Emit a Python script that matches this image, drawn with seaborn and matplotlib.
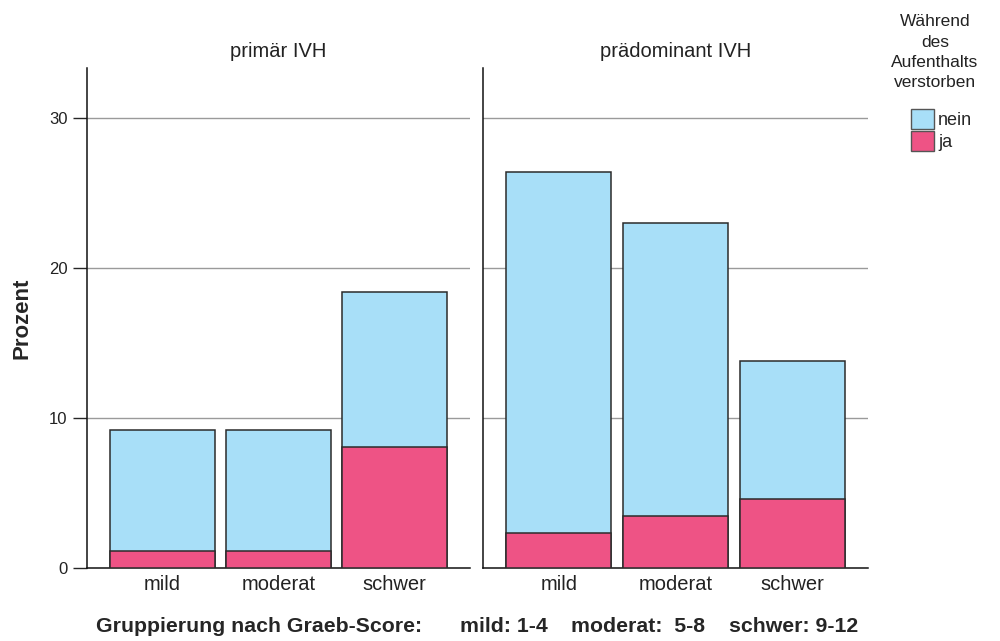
import matplotlib
matplotlib.use("Agg")
from matplotlib import pyplot as plt
from matplotlib.patches import Patch
import seaborn as sns
import pandas as pd

# Data (Prozent)
categories = ["mild", "moderat", "schwer"]
panels = ["primär IVH", "prädominant IVH"]
nein_primaer = [8.05, 8.05, 10.35]
ja_primaer = [1.15, 1.15, 8.05]
nein_praedom = [24.1, 19.5, 9.2]
ja_praedom = [2.3, 3.45, 4.6]

col_nein = "#A8DFF8"
col_ja = "#EE5385"

sns.set_style("white")
plt.rcParams["font.family"] = ["Liberation Sans", "DejaVu Sans"]

fig = plt.figure(figsize=(10, 6.41), dpi=100)
ax1 = fig.add_axes([0.087, 0.1139, 0.383, 0.780])
ax2 = fig.add_axes([0.483, 0.1139, 0.385, 0.780])

panel_data = [(ax1, panels[0], nein_primaer, ja_primaer),
              (ax2, panels[1], nein_praedom, ja_praedom)]

for ax, title, nein, ja in panel_data:
    df = pd.DataFrame({"Gruppe": categories,
                       "gesamt": [a + b for a, b in zip(nein, ja)],
                       "ja": ja})
    # total bar (nein on top), then ja drawn from the base
    sns.barplot(data=df, x="Gruppe", y="gesamt", color=col_nein, width=0.9,
                edgecolor="#2b2b2b", linewidth=1.1, saturation=1, ax=ax, zorder=3)
    sns.barplot(data=df, x="Gruppe", y="ja", color=col_ja, width=0.9,
                edgecolor="#2b2b2b", linewidth=1.1, saturation=1, ax=ax, zorder=4)
    ax.set_xlim(-0.65, 2.65)
    ax.set_ylim(0, 33.3)
    ax.set_yticks([0, 10, 20, 30])
    for v in [10, 20, 30]:
        ax.axhline(v, color="#9a9a9a", linewidth=1.0, zorder=1)
    ax.set_title(title, fontsize=14.5, color="#222222", pad=8)
    ax.set_xlabel("")
    ax.set_ylabel("")
    ax.tick_params(axis="x", bottom=False, length=0, labelsize=14.5, pad=5, colors="#222222")
    for s in ["top", "right"]:
        ax.spines[s].set_visible(False)
    ax.spines["left"].set_color("#111111")
    ax.spines["bottom"].set_color("#111111")
    ax.spines["left"].set_linewidth(1.1)
    ax.spines["bottom"].set_linewidth(1.1)

ax1.tick_params(axis="y", left=True, length=10, width=1.0,
                labelsize=12, pad=4)
for t in ax1.yaxis.get_ticklines():
    t.set_color("#9a9a9a")
for lab in ax1.get_yticklabels():
    lab.set_color("#222222")
ax1.set_ylabel("Prozent", fontsize=16, fontweight="bold", labelpad=12)
ax2.tick_params(axis="y", left=False, length=0, labelleft=False)

# x axis caption, pieces placed like the original
caption = ["Gruppierung nach Graeb-Score:", "mild: 1-4", "moderat:  5-8", "schwer: 9-12"]
caption_x = [0.096, 0.460, 0.571, 0.729]
for txt, xx in zip(caption, caption_x):
    fig.text(xx, 0.022, txt, ha="left", va="center", fontsize=15.3, fontweight="bold")

handles = [Patch(facecolor=col_nein, edgecolor="#555555", label="nein"),
           Patch(facecolor=col_ja, edgecolor="#555555", label="ja")]
fig.text(0.935, 0.978, "Während\ndes\nAufenthalts\nverstorben", ha="center", va="top",
         fontsize=12.5, color="#222222", linespacing=1.45)
fig.legend(handles=handles, loc="upper left", bbox_to_anchor=(0.911, 0.83),
           frameon=False, fontsize=13, handlelength=1.3, handleheight=1.35,
           handletextpad=0.2, labelspacing=0.1, borderaxespad=0, borderpad=0)

fig.savefig("out.png", dpi=100)
